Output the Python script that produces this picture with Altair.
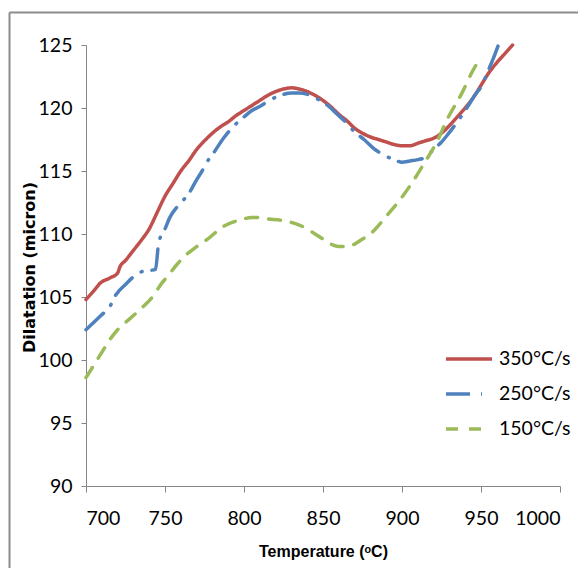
import altair as alt
import pandas as pd

# ---- data ----
red_T = [700, 705, 709, 715, 720, 721.5, 725, 730, 735, 740, 745, 750, 755, 760, 765, 770, 775, 780,
         785, 790, 795, 800, 805, 810, 815, 820, 825, 830, 835, 840, 845, 850, 855, 860, 865, 870,
         875, 880, 885, 890, 895, 900, 905, 910, 915, 920, 925, 930, 935, 940, 945, 950, 955, 960,
         965, 970]
red_V = [104.8, 105.5, 106.1, 106.5, 106.9, 107.4, 107.9, 108.7, 109.5, 110.4, 111.7, 113.0, 114.0,
         115.0, 115.8, 116.7, 117.4, 118.0, 118.5, 118.9, 119.4, 119.8, 120.2, 120.6, 121.0, 121.3,
         121.5, 121.6, 121.5, 121.3, 121.0, 120.6, 120.1, 119.5, 119.0, 118.4, 118.0, 117.7, 117.5,
         117.3, 117.1, 117.0, 117.0, 117.2, 117.4, 117.6, 118.0, 118.6, 119.3, 120.0, 120.8, 121.8,
         122.8, 123.6, 124.3, 125.0]

blue_T = [700, 705, 710, 715, 718, 721, 725, 730, 735, 740, 744, 746, 750, 753, 758, 765, 770, 773,
          777, 780, 787, 793, 800, 805, 811, 816, 823, 830, 835, 842, 848, 853, 859, 865, 870, 876,
          882, 888, 895, 900, 905, 910, 915, 920, 925, 929, 935, 941, 946, 951, 954, 958, 961]
blue_V = [102.4, 103.0, 103.6, 104.2, 105.0, 105.5, 106.0, 106.6, 107.0, 107.1, 107.2, 109.3, 110.4,
          111.3, 112.2, 113.2, 114.3, 114.9, 115.8, 116.3, 117.6, 118.5, 119.3, 119.8, 120.2, 120.6,
          121.0, 121.2, 121.2, 121.0, 120.6, 120.2, 119.5, 118.8, 118.1, 117.5, 116.8, 116.3, 115.9,
          115.7, 115.8, 115.9, 116.1, 116.7, 117.3, 117.9, 118.9, 120.0, 121.0, 121.9, 122.8, 124.0,
          125.0]

green_T = [700, 705, 710, 715, 720, 728, 735, 742, 748, 752, 757, 763, 769, 777, 787, 797, 805, 810,
           815, 823, 833, 840, 845, 850, 855, 860, 865, 870, 875, 880, 886, 892, 898, 906, 914, 922,
           929, 938, 945, 950]
green_V = [98.6, 99.6, 100.6, 101.6, 102.4, 103.3, 104.1, 105.0, 106.1, 106.7, 107.5, 108.3, 108.9,
           109.6, 110.6, 111.1, 111.3, 111.3, 111.2, 111.1, 110.8, 110.4, 110.0, 109.6, 109.2, 109.0,
           109.0, 109.2, 109.6, 110.0, 110.8, 111.7, 112.6, 114.0, 115.6, 117.3, 119.2, 121.2, 123.0,
           124.0]

series = ["350°C/s", "250°C/s", "150°C/s"]
colors = ["#C0504D", "#4F81BD", "#9BBB59"]
dashes = [[1, 0], [24, 11, 1, 10], [12, 11]]
x_ticks = [700, 750, 800, 850, 900, 950, 1000]
y_ticks = [90, 95, 100, 105, 110, 115, 120, 125]

rows = []
for name, ts, vs in zip(series, [red_T, blue_T, green_T], [red_V, blue_V, green_V]):
    for i, (t, v) in enumerate(zip(ts, vs)):
        rows.append({"T": t, "D": v, "s": name, "o": i})
df = pd.DataFrame(rows)

FONT = "Lato"
GRAY = "#868686"

lines = alt.Chart(df).mark_line(strokeWidth=3.5, strokeCap="round", interpolate="monotone").encode(
    x=alt.X("T:Q", scale=alt.Scale(domain=[700, 1000], nice=False),
            axis=alt.Axis(values=x_ticks, format="d", title="Temperature (ᵒC)", grid=False,
                          domainColor=GRAY, tickColor=GRAY, tickSize=6, labelPadding=17,
                          labelFont=FONT, labelFontSize=19.5, labelColor="#000000",
                          titleFont="Liberation Sans", titleFontSize=16, titleFontWeight="bold",
                          titleColor="#000000", titleX=237, titleY=65, titleBaseline="middle")),
    y=alt.Y("D:Q", scale=alt.Scale(domain=[90, 125], nice=False),
            axis=alt.Axis(values=y_ticks, format="d", title="Dilatation  (micron)", grid=False,
                          domainColor=GRAY, tickColor=GRAY, tickSize=5, labelPadding=9,
                          labelFont=FONT, labelFontSize=19.5, labelColor="#000000",
                          titleFont="DejaVu Sans", titleFontSize=16, titleFontWeight="bold",
                          titleColor="#000000", titleX=-57, titleY=222, titleBaseline="middle")),
    color=alt.Color("s:N", scale=alt.Scale(domain=series, range=colors),
                    legend=alt.Legend(title=None, orient="none", legendX=358, legendY=289,
                                      symbolType="stroke", symbolSize=2116, symbolStrokeWidth=3.5,
                                      labelFont=FONT, labelFontSize=19.5, labelColor="#000000",
                                      labelOffset=5, rowPadding=-6)),
    strokeDash=alt.StrokeDash("s:N", scale=alt.Scale(domain=series, range=dashes), legend=None),
    order="o:Q",
    detail="s:N",
)

frame_data = alt.Data(values=[{"k": 1}])
frame_left = alt.Chart(frame_data).mark_rule(color="#8c8c8c", strokeWidth=2).encode(
    x=alt.value(-76.5), y=alt.value(-32.5), y2=alt.value(560))
frame_top = alt.Chart(frame_data).mark_rule(color="#8c8c8c", strokeWidth=2).encode(
    x=alt.value(-76.5), x2=alt.value(520), y=alt.value(-32.5))

chart = alt.layer(frame_left, frame_top, lines).properties(
    width=474, height=441,
    autosize=alt.AutoSizeParams(type="none"),
    padding={"left": 78, "top": 37, "right": 18, "bottom": 82},
).configure_view(stroke="transparent")

chart.save("out.html", embed_options={"renderer": "svg", "actions": False})
